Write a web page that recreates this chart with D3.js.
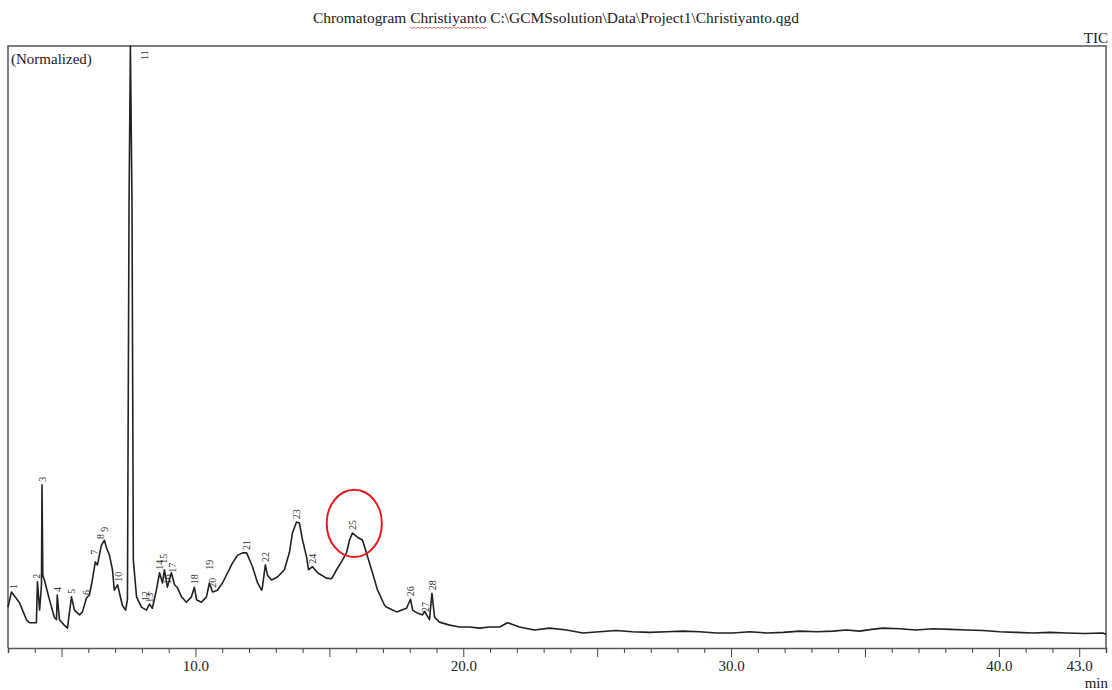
<!DOCTYPE html>
<html>
<head>
<meta charset="utf-8">
<script src="https://cdnjs.cloudflare.com/ajax/libs/d3/7.8.5/d3.min.js"></script>
<style>
  body { margin: 0; background: #fff; }
  svg { display: block; font-family: "Liberation Serif", "DejaVu Serif", serif; }
</style>
</head>
<body>
<svg id="plot"></svg>
<script>
// chromatogram trace (retention time in min, normalized intensity %)
var times = [3.00, 3.13, 3.43, 3.69, 3.80, 4.06, 4.10, 4.18, 4.25, 4.27, 4.30, 4.36, 4.55, 4.73, 4.81, 4.84, 4.92, 5.10, 5.22,
             5.37, 5.48, 5.67, 5.78, 5.93, 6.04, 6.15, 6.26, 6.34, 6.41, 6.49, 6.60, 6.68, 6.79, 6.90, 6.97, 7.09, 7.27, 7.39,
             7.46, 7.52, 7.57, 7.63, 7.68, 7.80, 7.98, 8.17, 8.28, 8.39, 8.54, 8.66, 8.77, 8.84, 8.95, 9.10, 9.22, 9.33, 9.48,
             9.66, 9.85, 9.96, 10.04, 10.22, 10.41, 10.52, 10.64, 10.82, 11.01, 11.20, 11.38, 11.57, 11.76, 11.91, 12.13, 12.32,
             12.47, 12.50, 12.61, 12.69, 12.84, 13.06, 13.32, 13.51, 13.62, 13.77, 13.88, 14.00, 14.15, 14.22, 14.37, 14.56,
             14.89, 15.08, 15.27, 15.45, 15.64, 15.75, 15.86, 16.05, 16.24, 16.43, 16.61, 16.80, 17.06, 17.13, 17.36, 17.51,
             17.88, 18.03, 18.11, 18.29, 18.48, 18.55, 18.74, 18.83, 18.93, 19.11, 19.49, 19.86, 20.24, 20.61, 20.98, 21.36,
             21.65, 22.10, 22.66, 23.22, 23.86, 24.46, 25.09, 25.70, 26.32, 26.95, 27.59, 28.20, 28.83, 29.45, 30.06, 30.70,
             31.33, 31.95, 32.56, 33.20, 33.80, 34.30, 34.80, 35.25, 35.66, 36.30, 36.90, 37.53, 38.20, 38.80, 39.40, 40.03,
             40.65, 41.27, 41.90, 42.54, 43.20, 43.88, 44.00];
var intensity = [6.8, 9.3, 7.5, 4.7, 4.2, 4.2, 11.0, 6.3, 10.5, 27.1, 12.1, 11.3, 8.0, 5.1, 4.7, 8.8, 4.7, 3.8, 3.3,
                 8.5, 6.3, 5.5, 6.0, 8.3, 8.8, 11.3, 14.3, 13.8, 15.4, 17.1, 17.9, 16.6, 15.4, 13.0, 9.6, 10.5, 7.1, 6.3,
                 8.0, 74.0, 100, 74.0, 14.6, 8.5, 6.8, 6.3, 7.3, 6.6, 9.6, 12.5, 10.8, 13.0, 10.1, 12.5, 10.5, 10.0, 8.5,
                 7.6, 8.5, 10.1, 8.0, 7.6, 8.5, 10.8, 9.3, 9.6, 10.8, 12.5, 14.1, 15.4, 15.8, 15.8, 13.5, 10.8,
                 9.6, 10.1, 13.8, 12.1, 11.3, 11.8, 13.0, 15.9, 19.1, 20.9, 20.8, 17.9, 15.1, 13.0, 13.5, 12.5,
                 11.6, 11.5, 13.0, 14.3, 15.8, 17.9, 19.1, 18.4, 17.9, 15.1, 12.5, 9.6, 7.1, 6.8, 6.3, 6.0,
                 6.6, 8.1, 6.3, 5.8, 5.5, 6.1, 4.7, 9.1, 5.1, 4.3, 3.8, 3.5, 3.5, 3.3, 3.5, 3.5,
                 4.2, 3.5, 3.0, 3.3, 3.0, 2.5, 2.7, 2.9, 2.7, 2.6, 2.7, 2.8, 2.7, 2.5, 2.5, 2.7,
                 2.5, 2.6, 2.8, 2.7, 2.8, 3.0, 2.8, 3.1, 3.3, 3.2, 3.0, 3.2, 3.1, 3.0, 2.9, 2.7,
                 2.6, 2.5, 2.6, 2.5, 2.4, 2.5, 2.3];

// peak labels
var peakIds    = [1, 2, 3, 4, 5, 6, 7, 8, 9, 10, 11, 12, 13, 14, 15, 16, 17, 18, 19, 20, 21, 22, 23, 24, 25, 26, 27, 28];
var peakTimes  = [3.20, 4.06, 4.27, 4.84, 5.37, 5.93, 6.23, 6.46, 6.60, 7.12, 7.57, 8.13, 8.30, 8.66, 8.81, 8.95, 9.14,
                  9.96, 10.52, 10.64, 11.91, 12.61, 13.77, 14.37, 15.86, 18.03, 18.59, 18.85];
var peakHeights = [9.3, 11.0, 27.1, 8.8, 8.5, 8.3, 15.0, 17.6, 18.8, 10.5, 100, 7.3, 7.0, 12.5, 13.5, 10.1, 12.0,
                   10.1, 12.5, 9.5, 15.8, 13.8, 20.9, 13.5, 19.1, 8.1, 5.5, 9.1];

// axis
var xDomain = [3.0, 44.0];
var yDomain = [0, 100];
var tickLabels = [10, 20, 30, 40, 43];

// circled peak (25): centre and half sizes in data units
var markPeak = {t: 15.93, v: 20.7, halfT: 1.03, halfV: 5.6};

var titleText = "Chromatogram Christiyanto  C:\\GCMSsolution\\Data\\Project1\\Christiyanto.qgd";

var w = 1112;
var h = 690;
var padLeft = 8, padRight = 1106, padTop = 46, padBottom = 648;

var svg = d3.select("#plot")
            .attr("width", w)
            .attr("height", h);

var xScale = d3.scaleLinear()
               .domain(xDomain)
               .range([padLeft, padRight]);

var yScale = d3.scaleLinear()
               .domain(yDomain)
               .range([padBottom, padTop]);

// title
var title = svg.append("text")
   .attr("x", 556)
   .attr("y", 23)
   .attr("text-anchor", "middle")
   .attr("font-size", "14.5px")
   .attr("fill", "#222")
   .attr("textLength", 486)
   .attr("lengthAdjust", "spacingAndGlyphs")
   .text(titleText);

// red spell-check squiggle under the first "Christiyanto"
var tNode = title.node();
var sx = tNode.getStartPositionOfChar(13).x;
var ex = tNode.getEndPositionOfChar(24).x;
var squig = [];
for (var k = 0; sx + k * 2 <= ex; k++) {
    squig.push([sx + k * 2, 27 + (k % 2 ? 1.5 : 0)]);
}
svg.append("path")
   .attr("d", d3.line()(squig))
   .attr("fill", "none")
   .attr("stroke", "#d04040")
   .attr("stroke-width", 0.8);

svg.append("text")
   .attr("x", 1108)
   .attr("y", 43)
   .attr("text-anchor", "end")
   .attr("font-size", "15px")
   .attr("fill", "#222")
   .text("TIC");

// frame
svg.append("path")
   .attr("d", "M" + padLeft + "," + padBottom + "V" + padTop + "H" + padRight + "V" + padBottom)
   .attr("fill", "none")
   .attr("stroke", "#555")
   .attr("stroke-width", 1.5);

svg.append("text")
   .attr("x", 11)
   .attr("y", 64)
   .attr("font-size", "15px")
   .attr("fill", "#222")
   .text("(Normalized)");

// x axis
var xAxis = d3.axisBottom()
              .scale(xScale)
              .tickValues(d3.range(3, 45))
              .tickSizeOuter(0)
              .tickSize(5)
              .tickFormat(function(d) {
                  return tickLabels.indexOf(d) >= 0 ? d.toFixed(1) : "";
              });

var gx = svg.append("g")
   .attr("class", "axis")
   .attr("transform", "translate(0," + padBottom + ")")
   .call(xAxis);

gx.select(".domain")
  .attr("stroke", "#555")
  .attr("stroke-width", 1.5);

gx.selectAll(".tick line")
  .attr("stroke", "#444")
  .attr("y2", function(d) {
      return (d % 5 === 0 || tickLabels.indexOf(d) >= 0) ? 9 : 5;
  });

gx.selectAll(".tick text")
  .attr("y", 12)
  .attr("font-family", "Liberation Serif, serif")
  .attr("font-size", "15px")
  .attr("fill", "#222");

svg.append("text")
   .attr("x", 1108)
   .attr("y", 688)
   .attr("text-anchor", "end")
   .attr("font-size", "15px")
   .attr("fill", "#222")
   .text("min");

// trace
var trace = times.map(function(t, i) { return [t, intensity[i]]; });

var line = d3.line()
             .x(function(d) { return xScale(d[0]); })
             .y(function(d) { return yScale(d[1]); });

svg.append("path")
   .datum(trace)
   .attr("d", line)
   .attr("fill", "none")
   .attr("stroke", "#222")
   .attr("stroke-width", 1.6)
   .attr("stroke-linejoin", "round");

// peak number labels (rotated)
svg.selectAll("text.peak")
   .data(peakIds)
   .enter()
   .append("text")
   .attr("class", "peak")
   .attr("font-size", "10px")
   .attr("fill", "#333")
   .attr("transform", function(d, i) {
       var px = xScale(peakTimes[i]) + 3.5;
       var py = yScale(peakHeights[i]) - 3;
       if (peakHeights[i] >= 99) {
           px = xScale(peakTimes[i]) + 18;
           py = yScale(peakHeights[i]) + 14;
       }
       return "translate(" + px + "," + py + ") rotate(-90)";
   })
   .text(function(d) { return d; });

// red circle round peak 25
var cx = xScale(markPeak.t);
var cy = yScale(markPeak.v);
svg.append("ellipse")
   .attr("cx", cx)
   .attr("cy", cy)
   .attr("rx", xScale(markPeak.t + markPeak.halfT) - cx)
   .attr("ry", cy - yScale(markPeak.v + markPeak.halfV))
   .attr("fill", "none")
   .attr("stroke", "#e8191c")
   .attr("stroke-width", 2);
</script>
</body>
</html>
